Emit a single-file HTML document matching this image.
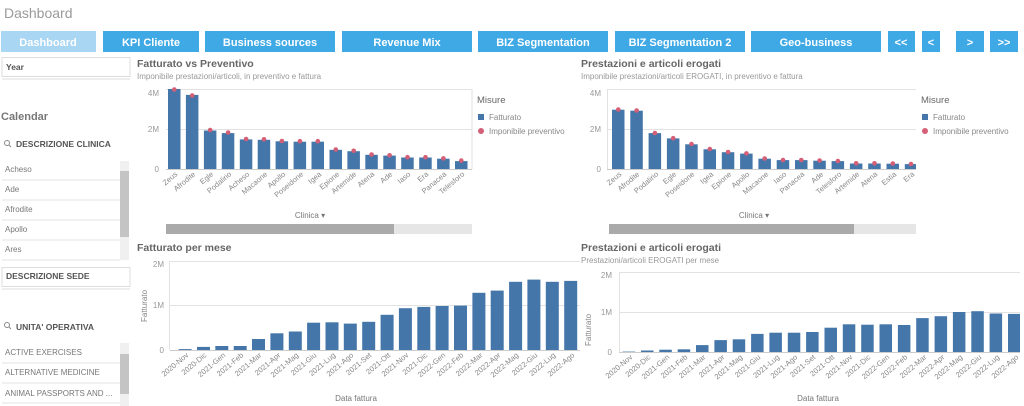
<!DOCTYPE html>
<html><head><meta charset="utf-8"><style>
body{margin:0;background:#fff}
svg{display:block;font-family:"Liberation Sans",sans-serif}
.tab{fill:#3fa9e6}.tt{fill:#fff;font-size:11px;font-weight:bold;text-anchor:middle}
.b{fill:#4576aa}.d{fill:#d45f77}
.ax{font-size:8px;fill:#999}
.lb{font-size:7.5px;fill:#888;text-anchor:end}
.li{font-size:8px;fill:#777}
.g{stroke:#e2e2e2;stroke-width:1}
</style></head><body>
<svg width="1024" height="406" viewBox="0 0 1024 406">
<text x="4" y="18" font-size="14" fill="#9a9a9a">Dashboard</text>
<rect x="1" y="31" width="95" height="21" fill="#a9d6f3"/><text class="tt" x="48" y="46">Dashboard</text>
<rect class="tab" x="103" y="31" width="96" height="21"/><text class="tt" x="151" y="46">KPI Cliente</text>
<rect class="tab" x="205" y="31" width="130" height="21"/><text class="tt" x="270" y="46">Business sources</text>
<rect class="tab" x="342" y="31" width="130" height="21"/><text class="tt" x="407" y="46">Revenue Mix</text>
<rect class="tab" x="478" y="31" width="130" height="21"/><text class="tt" x="543" y="46">BIZ Segmentation</text>
<rect class="tab" x="615" y="31" width="130" height="21"/><text class="tt" x="680" y="46">BIZ Segmentation 2</text>
<rect class="tab" x="751" y="31" width="130" height="21"/><text class="tt" x="816" y="46">Geo-business</text>
<rect class="tab" x="888" y="31" width="27" height="21"/><text class="tt" x="901" y="46">&lt;&lt;</text>
<rect class="tab" x="922" y="31" width="18" height="21"/><text class="tt" x="931" y="46">&lt;</text>
<rect class="tab" x="956" y="31" width="28" height="21"/><text class="tt" x="970" y="46">&gt;</text>
<rect class="tab" x="990" y="31" width="28" height="21"/><text class="tt" x="1004" y="46">&gt;&gt;</text>

<!-- left panel -->
<rect x="2" y="57.5" width="128" height="19" fill="#fff" stroke="#ddd"/><line x1="2" y1="79" x2="130" y2="79" stroke="#ddd"/>
<text x="6" y="70" font-size="8.5" font-weight="bold" fill="#555">Year</text>
<text x="1" y="120" font-size="11" font-weight="bold" fill="#777">Calendar</text>
<circle cx="7" cy="143" r="2.5" fill="none" stroke="#888"/><line x1="9" y1="145" x2="11" y2="147" stroke="#888"/>
<text x="16" y="147" font-size="8.5" font-weight="bold" fill="#555">DESCRIZIONE CLINICA</text>
<g class="li"><text x="5" y="172">Acheso</text><text x="5" y="192">Ade</text><text x="5" y="212">Afrodite</text><text x="5" y="232">Apollo</text><text x="5" y="252">Ares</text></g>
<g stroke="#e3e3e3"><line x1="2" y1="180" x2="120" y2="180"/><line x1="2" y1="200" x2="120" y2="200"/><line x1="2" y1="220" x2="120" y2="220"/><line x1="2" y1="240" x2="120" y2="240"/><line x1="2" y1="260" x2="120" y2="260"/></g>
<rect x="120" y="161" width="9" height="99" fill="#f0f0f0"/><rect x="120" y="171" width="9" height="66" fill="#c4c4c4"/>
<rect x="2" y="267.5" width="128" height="19" fill="#fff" stroke="#ddd"/><line x1="2" y1="289" x2="130" y2="289" stroke="#ddd"/>
<text x="6" y="279" font-size="8.5" font-weight="bold" fill="#555">DESCRIZIONE SEDE</text>
<circle cx="7" cy="325" r="2.5" fill="none" stroke="#888"/><line x1="9" y1="327" x2="11" y2="329" stroke="#888"/>
<text x="16" y="330" font-size="8.5" font-weight="bold" fill="#555">UNITA' OPERATIVA</text>
<g class="li"><text x="5" y="355">ACTIVE EXERCISES</text><text x="5" y="375">ALTERNATIVE MEDICINE</text><text x="5" y="396">ANIMAL PASSPORTS AND ...</text></g>
<g stroke="#e3e3e3"><line x1="2" y1="363" x2="120" y2="363"/><line x1="2" y1="383" x2="120" y2="383"/><line x1="2" y1="403" x2="120" y2="403"/></g>
<rect x="120" y="343" width="9" height="63" fill="#f0f0f0"/><rect x="120" y="354" width="9" height="40" fill="#c4c4c4"/>

<!-- chart 1 -->
<text x="137" y="67" font-size="10.5" font-weight="bold" fill="#666">Fatturato vs Preventivo</text>
<text x="137" y="79" font-size="8" fill="#999">Imponibile prestazioni/articoli, in preventivo e fattura</text>
<line class="g" x1="166" y1="89.5" x2="472" y2="89.5"/><line class="g" x1="166" y1="129.5" x2="472" y2="129.5"/><line x1="166" y1="169.5" x2="472" y2="169.5" stroke="#ccc"/>
<line class="g" x1="472" y1="89" x2="472" y2="169"/>
<g class="ax" text-anchor="end"><text x="159" y="96">4M</text><text x="159" y="132">2M</text><text x="159" y="172">0</text></g>
<g class="b">
<rect x="168" y="89" width="12.5" height="80"/><rect x="185.9" y="94.9" width="12.5" height="74.1"/><rect x="203.9" y="130.5" width="12.5" height="38.5"/><rect x="221.8" y="133.1" width="12.5" height="35.9"/><rect x="239.8" y="139.4" width="12.5" height="29.6"/><rect x="257.7" y="139.8" width="12.5" height="29.2"/><rect x="275.6" y="141.3" width="12.5" height="27.7"/><rect x="293.6" y="141.7" width="12.5" height="27.3"/><rect x="311.5" y="141.7" width="12.5" height="27.3"/><rect x="329.5" y="149.8" width="12.5" height="19.2"/><rect x="347.4" y="151.2" width="12.5" height="17.8"/><rect x="365.3" y="154.8" width="12.5" height="14.2"/><rect x="383.3" y="155.6" width="12.5" height="13.4"/><rect x="401.2" y="157.5" width="12.5" height="11.5"/><rect x="419.2" y="157.5" width="12.5" height="11.5"/><rect x="437.1" y="158.7" width="12.5" height="10.3"/><rect x="455" y="161.1" width="12.5" height="7.9"/></g>
<g class="d">
<circle cx="174.3" cy="89.5" r="2.3"/><circle cx="192.2" cy="95.5" r="2.3"/><circle cx="210.2" cy="130" r="2.3"/><circle cx="228.1" cy="132.5" r="2.3"/><circle cx="246.1" cy="139" r="2.3"/><circle cx="264" cy="139.3" r="2.3"/><circle cx="281.9" cy="141" r="2.3"/><circle cx="299.9" cy="141.2" r="2.3"/><circle cx="317.8" cy="141.2" r="2.3"/><circle cx="335.8" cy="149.5" r="2.3"/><circle cx="353.7" cy="150.8" r="2.3"/><circle cx="371.6" cy="154.5" r="2.3"/><circle cx="389.6" cy="155.3" r="2.3"/><circle cx="407.5" cy="157.2" r="2.3"/><circle cx="425.5" cy="157.2" r="2.3"/><circle cx="443.4" cy="158.4" r="2.3"/><circle cx="461.3" cy="160.6" r="2.3"/></g>
<g class="lb">
<text transform="translate(178,175) rotate(-40)">Zeus</text><text transform="translate(196,175) rotate(-40)">Afrodite</text><text transform="translate(214,175) rotate(-40)">Egle</text><text transform="translate(232,175) rotate(-40)">Podalirio</text><text transform="translate(250,175) rotate(-40)">Acheso</text><text transform="translate(268,175) rotate(-40)">Macaone</text><text transform="translate(286,175) rotate(-40)">Apollo</text><text transform="translate(304,175) rotate(-40)">Poseidone</text><text transform="translate(322,175) rotate(-40)">Igea</text><text transform="translate(340,175) rotate(-40)">Epione</text><text transform="translate(357,175) rotate(-40)">Artemide</text><text transform="translate(375,175) rotate(-40)">Atena</text><text transform="translate(393,175) rotate(-40)">Ade</text><text transform="translate(411,175) rotate(-40)">Iaso</text><text transform="translate(429,175) rotate(-40)">Era</text><text transform="translate(447,175) rotate(-40)">Panacea</text><text transform="translate(465,175) rotate(-40)">Telesforo</text></g>
<text x="477" y="103" font-size="9.5" fill="#666">Misure</text>
<rect x="478" y="114" width="6" height="6" class="b"/><text x="489" y="120" font-size="8" fill="#888">Fatturato</text>
<circle cx="481" cy="131" r="3" class="d"/><text x="489" y="134" font-size="8" fill="#888">Imponibile preventivo</text>
<text x="310" y="218" font-size="8" fill="#777" text-anchor="middle">Clinica  ▾</text>
<rect x="166" y="224" width="306" height="10" fill="#e6e6e6"/><rect x="166" y="224" width="228" height="10" fill="#aaa"/>

<!-- chart 2 -->
<text x="581" y="67" font-size="10.5" font-weight="bold" fill="#666">Prestazioni e articoli erogati</text>
<text x="581" y="79" font-size="8" fill="#999">Imponibile prestazioni/articoli EROGATI, in preventivo e fattura</text>
<line class="g" x1="607" y1="89.5" x2="916" y2="89.5"/><line class="g" x1="607" y1="129.5" x2="916" y2="129.5"/><line x1="607" y1="169.5" x2="916" y2="169.5" stroke="#ccc"/>
<line class="g" x1="607.5" y1="89" x2="607.5" y2="169"/>
<g class="ax" text-anchor="end"><text x="601" y="96">4M</text><text x="601" y="132">2M</text><text x="601" y="172">0</text></g>
<g class="b">
<rect x="612" y="109.7" width="12.5" height="59.3"/><rect x="630.3" y="110.7" width="12.5" height="58.3"/><rect x="648.6" y="133.1" width="12.5" height="35.9"/><rect x="666.9" y="138.4" width="12.5" height="30.6"/><rect x="685.2" y="144.3" width="12.5" height="24.7"/><rect x="703.5" y="149.3" width="12.5" height="19.7"/><rect x="721.8" y="152.2" width="12.5" height="16.8"/><rect x="740.1" y="153.6" width="12.5" height="15.4"/><rect x="758.4" y="158.7" width="12.5" height="10.3"/><rect x="776.7" y="160.1" width="12.5" height="8.9"/><rect x="795" y="160.1" width="12.5" height="8.9"/><rect x="813.3" y="160.7" width="12.5" height="8.3"/><rect x="831.6" y="161.1" width="12.5" height="7.9"/><rect x="849.9" y="163.5" width="12.5" height="5.5"/><rect x="868.2" y="163.5" width="12.5" height="5.5"/><rect x="886.5" y="163.7" width="12.5" height="5.3"/><rect x="904.8" y="164.1" width="11.2" height="4.9"/></g>
<g class="d">
<circle cx="618.3" cy="109.5" r="2.3"/><circle cx="636.6" cy="110.5" r="2.3"/><circle cx="654.9" cy="133" r="2.3"/><circle cx="673.2" cy="138.2" r="2.3"/><circle cx="691.5" cy="144" r="2.3"/><circle cx="709.8" cy="149" r="2.3"/><circle cx="728.1" cy="152" r="2.3"/><circle cx="746.4" cy="153.4" r="2.3"/><circle cx="764.7" cy="158.5" r="2.3"/><circle cx="783" cy="160" r="2.3"/><circle cx="801.3" cy="160" r="2.3"/><circle cx="819.6" cy="160.5" r="2.3"/><circle cx="837.9" cy="161" r="2.3"/><circle cx="856.2" cy="163.3" r="2.3"/><circle cx="874.5" cy="163.3" r="2.3"/><circle cx="892.8" cy="163.5" r="2.3"/><circle cx="911" cy="164" r="2.3"/></g>
<g class="lb">
<text transform="translate(622,175) rotate(-40)">Zeus</text><text transform="translate(640,175) rotate(-40)">Afrodite</text><text transform="translate(659,175) rotate(-40)">Podalirio</text><text transform="translate(677,175) rotate(-40)">Egle</text><text transform="translate(695,175) rotate(-40)">Poseidone</text><text transform="translate(714,175) rotate(-40)">Igea</text><text transform="translate(732,175) rotate(-40)">Epione</text><text transform="translate(750,175) rotate(-40)">Apollo</text><text transform="translate(769,175) rotate(-40)">Macaone</text><text transform="translate(787,175) rotate(-40)">Iaso</text><text transform="translate(805,175) rotate(-40)">Panacea</text><text transform="translate(824,175) rotate(-40)">Ade</text><text transform="translate(842,175) rotate(-40)">Telesforo</text><text transform="translate(860,175) rotate(-40)">Artemide</text><text transform="translate(878,175) rotate(-40)">Atena</text><text transform="translate(897,175) rotate(-40)">Estia</text><text transform="translate(915,175) rotate(-40)">Era</text></g>
<text x="921" y="103" font-size="9.5" fill="#666">Misure</text>
<rect x="922" y="114" width="6" height="6" class="b"/><text x="933" y="120" font-size="8" fill="#888">Fatturato</text>
<circle cx="925" cy="131" r="3" class="d"/><text x="933" y="134" font-size="8" fill="#888">Imponibile preventivo</text>
<text x="754" y="218" font-size="8" fill="#777" text-anchor="middle">Clinica  ▾</text>
<rect x="609" y="224" width="307" height="10" fill="#e6e6e6"/><rect x="609" y="224" width="245" height="10" fill="#aaa"/>

<!-- chart 3 -->
<text x="137" y="251" font-size="10.5" font-weight="bold" fill="#666">Fatturato per mese</text>
<line class="g" x1="170" y1="261.5" x2="580" y2="261.5"/><line class="g" x1="170" y1="305.5" x2="580" y2="305.5"/><line x1="170" y1="350.5" x2="580" y2="350.5" stroke="#ccc"/>
<line class="g" x1="169.5" y1="261" x2="169.5" y2="350"/>
<g class="ax" text-anchor="end"><text x="164" y="267">2M</text><text x="164" y="308">1M</text><text x="164" y="353">0</text></g>
<text transform="translate(147,306) rotate(-90)" font-size="8" fill="#888" text-anchor="middle">Fatturato</text>
<g class="b">
<rect x="178.6" y="349.1" width="13" height="0.9"/><rect x="197" y="346.9" width="13" height="3.1"/><rect x="215.3" y="346" width="13" height="4"/><rect x="233.7" y="346" width="13" height="4"/><rect x="252" y="339" width="13" height="11"/><rect x="270.4" y="333.3" width="13" height="16.7"/><rect x="288.8" y="331.5" width="13" height="18.5"/><rect x="307.1" y="322.7" width="13" height="27.3"/><rect x="325.5" y="322.3" width="13" height="27.7"/><rect x="343.8" y="323.6" width="13" height="26.4"/><rect x="362.2" y="321.8" width="13" height="28.2"/><rect x="380.6" y="314.8" width="13" height="35.2"/><rect x="398.9" y="308.2" width="13" height="41.8"/><rect x="417.3" y="306.9" width="13" height="43.1"/><rect x="435.6" y="306" width="13" height="44"/><rect x="454" y="305.6" width="13" height="44.4"/><rect x="472.4" y="292.8" width="13" height="57.2"/><rect x="490.7" y="290.6" width="13" height="59.4"/><rect x="509.1" y="281.8" width="13" height="68.2"/><rect x="527.4" y="279.6" width="13" height="70.4"/><rect x="545.8" y="281.8" width="13" height="68.2"/><rect x="564.2" y="280.9" width="13" height="69.1"/></g>
<g class="lb">
<text transform="translate(189,356) rotate(-40)">2020-Nov</text><text transform="translate(207,356) rotate(-40)">2020-Dic</text><text transform="translate(226,356) rotate(-40)">2021-Gen</text><text transform="translate(244,356) rotate(-40)">2021-Feb</text><text transform="translate(262,356) rotate(-40)">2021-Mar</text><text transform="translate(281,356) rotate(-40)">2021-Apr</text><text transform="translate(299,356) rotate(-40)">2021-Mag</text><text transform="translate(317,356) rotate(-40)">2021-Giu</text><text transform="translate(336,356) rotate(-40)">2021-Lug</text><text transform="translate(354,356) rotate(-40)">2021-Ago</text><text transform="translate(372,356) rotate(-40)">2021-Set</text><text transform="translate(391,356) rotate(-40)">2021-Ott</text><text transform="translate(409,356) rotate(-40)">2021-Nov</text><text transform="translate(428,356) rotate(-40)">2021-Dic</text><text transform="translate(446,356) rotate(-40)">2022-Gen</text><text transform="translate(464,356) rotate(-40)">2022-Feb</text><text transform="translate(483,356) rotate(-40)">2022-Mar</text><text transform="translate(501,356) rotate(-40)">2022-Apr</text><text transform="translate(519,356) rotate(-40)">2022-Mag</text><text transform="translate(538,356) rotate(-40)">2022-Giu</text><text transform="translate(556,356) rotate(-40)">2022-Lug</text><text transform="translate(575,356) rotate(-40)">2022-Ago</text></g>
<text x="356" y="401" font-size="8" fill="#777" text-anchor="middle">Data fattura</text>

<!-- chart 4 -->
<text x="581" y="251" font-size="10.5" font-weight="bold" fill="#666">Prestazioni e articoli erogati</text>
<text x="581" y="263" font-size="8" fill="#999">Prestazioni/articoli EROGATI per mese</text>
<line class="g" x1="619" y1="272.5" x2="1020" y2="272.5"/><line class="g" x1="619" y1="312.5" x2="1020" y2="312.5"/><line x1="619" y1="352.5" x2="1020" y2="352.5" stroke="#ccc"/>
<line class="g" x1="619.5" y1="272" x2="619.5" y2="352"/>
<g class="ax" text-anchor="end"><text x="612" y="278">2M</text><text x="612" y="315">1M</text><text x="612" y="355">0</text></g>
<text transform="translate(591,330) rotate(-90)" font-size="8" fill="#888" text-anchor="middle">Fatturato</text>
<g class="b">
<rect x="622.6" y="351.6" width="12.5" height="0.4"/><rect x="641" y="350.5" width="12.5" height="1.5"/><rect x="659.3" y="349.7" width="12.5" height="2.3"/><rect x="677.7" y="349.3" width="12.5" height="2.7"/><rect x="696" y="345.1" width="12.5" height="6.9"/><rect x="714.4" y="340.1" width="12.5" height="11.9"/><rect x="732.7" y="339.3" width="12.5" height="12.7"/><rect x="751.1" y="333.9" width="12.5" height="18.1"/><rect x="769.4" y="332.7" width="12.5" height="19.3"/><rect x="787.8" y="332.7" width="12.5" height="19.3"/><rect x="806.1" y="332" width="12.5" height="20"/><rect x="824.5" y="327.7" width="12.5" height="24.3"/><rect x="842.8" y="324.3" width="12.5" height="27.7"/><rect x="861.2" y="324.7" width="12.5" height="27.3"/><rect x="879.5" y="324.3" width="12.5" height="27.7"/><rect x="897.9" y="325" width="12.5" height="27"/><rect x="916.2" y="318.1" width="12.5" height="33.9"/><rect x="934.6" y="316.2" width="12.5" height="35.8"/><rect x="952.9" y="312" width="12.5" height="40"/><rect x="971.3" y="311.2" width="12.5" height="40.8"/><rect x="989.6" y="313.5" width="12.5" height="38.5"/><rect x="1008" y="313.9" width="12" height="38.1"/></g>
<g class="lb">
<text transform="translate(633,358) rotate(-40)">2020-Nov</text><text transform="translate(651,358) rotate(-40)">2020-Dic</text><text transform="translate(670,358) rotate(-40)">2021-Gen</text><text transform="translate(688,358) rotate(-40)">2021-Feb</text><text transform="translate(706,358) rotate(-40)">2021-Mar</text><text transform="translate(725,358) rotate(-40)">2021-Apr</text><text transform="translate(743,358) rotate(-40)">2021-Mag</text><text transform="translate(761,358) rotate(-40)">2021-Giu</text><text transform="translate(780,358) rotate(-40)">2021-Lug</text><text transform="translate(798,358) rotate(-40)">2021-Ago</text><text transform="translate(816,358) rotate(-40)">2021-Set</text><text transform="translate(835,358) rotate(-40)">2021-Ott</text><text transform="translate(853,358) rotate(-40)">2021-Nov</text><text transform="translate(871,358) rotate(-40)">2021-Dic</text><text transform="translate(890,358) rotate(-40)">2022-Gen</text><text transform="translate(908,358) rotate(-40)">2022-Feb</text><text transform="translate(927,358) rotate(-40)">2022-Mar</text><text transform="translate(945,358) rotate(-40)">2022-Apr</text><text transform="translate(963,358) rotate(-40)">2022-Mag</text><text transform="translate(982,358) rotate(-40)">2022-Giu</text><text transform="translate(1000,358) rotate(-40)">2022-Lug</text><text transform="translate(1019,358) rotate(-40)">2022-Ago</text></g>
<text x="818" y="401" font-size="8" fill="#777" text-anchor="middle">Data fattura</text>
</svg>
</body></html>
